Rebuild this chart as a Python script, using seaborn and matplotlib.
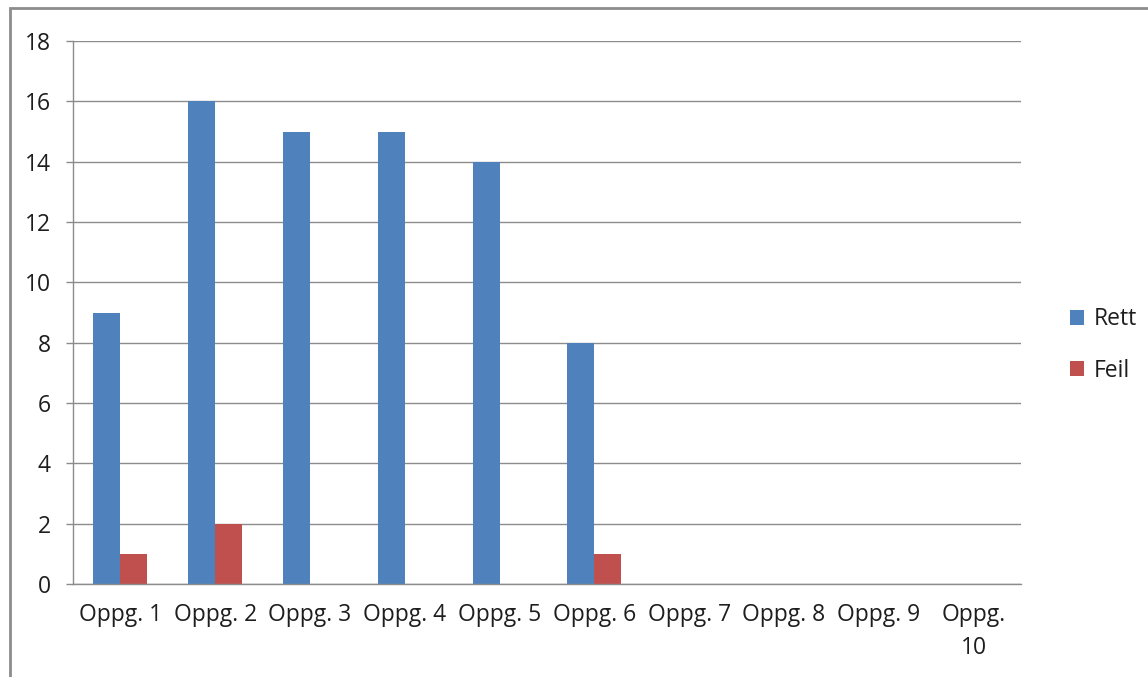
import matplotlib
matplotlib.use("Agg")
import matplotlib.pyplot as plt
import seaborn as sns
import pandas as pd
from matplotlib.patches import Rectangle

# data
categories = ["Oppg. 1", "Oppg. 2", "Oppg. 3", "Oppg. 4", "Oppg. 5",
              "Oppg. 6", "Oppg. 7", "Oppg. 8", "Oppg. 9", "Oppg. 10"]
tick_labels = ["Oppg. 1", "Oppg. 2", "Oppg. 3", "Oppg. 4", "Oppg. 5",
               "Oppg. 6", "Oppg. 7", "Oppg. 8", "Oppg. 9", "Oppg.\n10"]
rett = [9, 16, 15, 15, 14, 8, 0, 0, 0, 0]
feil = [1, 2, 0, 0, 0, 1, 0, 0, 0, 0]
series = ["Rett", "Feil"]
colors = ["#4F81BD", "#C0504D"]

df = pd.DataFrame({
    "oppg": categories * 2,
    "verdi": rett + feil,
    "serie": [series[0]] * len(categories) + [series[1]] * len(categories),
})

sns.set_style("white")
plt.rcParams["font.family"] = ["Open Sans", "DejaVu Sans"]
fs = 16.5
txt_c = "#1E1E1E"

fig = plt.figure(figsize=(11.48, 6.77), dpi=100)
ax = fig.add_axes([73 / 1148, 1 - 584 / 677, (1021 - 73) / 1148, (584 - 41) / 677])

sns.barplot(data=df, x="oppg", y="verdi", hue="serie", order=categories,
            hue_order=series, palette=colors, width=0.57, saturation=1,
            linewidth=0, ax=ax)

grid_c = "#8C8C8C"
ax.set_ylim(0, 18)
ax.set_xlim(-0.5, len(categories) - 0.5)
ax.set_yticks(range(0, 19, 2))
ax.yaxis.grid(True, color=grid_c, linewidth=1)
ax.set_axisbelow(True)
ax.set_xticks(range(len(categories)))
ax.set_xticklabels(tick_labels, linespacing=1.5)
ax.set_xticks([i - 0.5 for i in range(len(categories) + 1)], minor=True)
ax.tick_params(axis="x", which="major", length=0, pad=14, labelsize=fs,
               labelcolor=txt_c)
ax.tick_params(axis="x", which="minor", length=6, width=1, color=grid_c,
               direction="out")
ax.tick_params(axis="y", length=5, width=1, color=grid_c, direction="out",
               pad=11, labelsize=fs, labelcolor=txt_c, left=True)
ax.set_xlabel("")
ax.set_ylabel("")
for side in ["top", "right"]:
    ax.spines[side].set_visible(False)
for side in ["left", "bottom"]:
    ax.spines[side].set_color(grid_c)
    ax.spines[side].set_linewidth(1)

leg = ax.legend(loc="center left", bbox_to_anchor=(1.03, 0.44), frameon=False,
                fontsize=fs, handlelength=0.6, handleheight=0.6,
                handletextpad=0.45, labelspacing=1.2)
for t in leg.get_texts():
    t.set_color(txt_c)

# outer chart frame (left and top edges visible)
fig.patches.append(Rectangle((10 / 1148, -0.05), 1.2, 1 - 8 / 677 + 0.05,
                             transform=fig.transFigure, fill=False,
                             edgecolor="#8C8C8C", linewidth=2))

fig.savefig("out.png", dpi=100)
